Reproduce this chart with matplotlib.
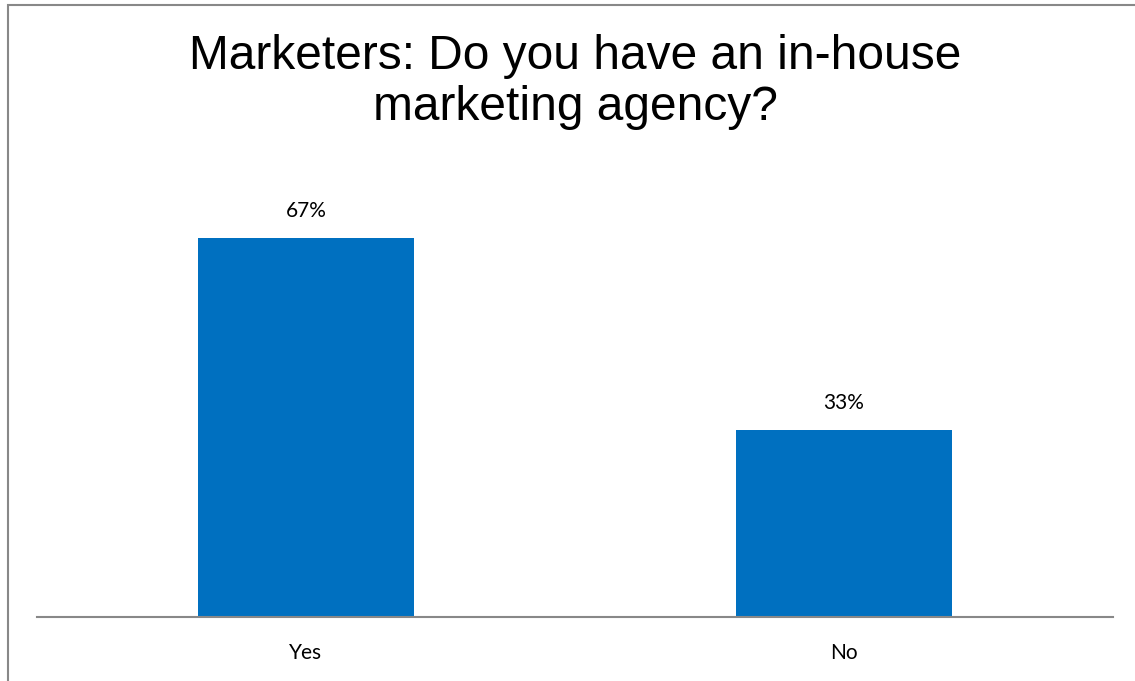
import matplotlib
matplotlib.use("Agg")
from matplotlib import pyplot as plt
from matplotlib.patches import Rectangle

answers = ["Yes", "No"]
shares = [67, 33]
bar_labels = ["67%", "33%"]

fig = plt.figure(figsize=(11.35, 6.81), dpi=100)
ax = fig.add_axes([37 / 1135, 1 - 617 / 681, 1076 / 1135, (617 - 164) / 681])

# chart frame (runs off the right and bottom edges)
fig.patches.append(Rectangle((7.5 / 1135, -0.1), 1.2, 1 - 4.5 / 681 + 0.1,
                             transform=fig.transFigure, fill=False,
                             edgecolor="#888888", linewidth=1.5))

bars = ax.bar(range(len(answers)), shares, width=0.4, color="#0070C0")
for bar, lab in zip(bars, bar_labels):
    ax.annotate(lab, (bar.get_x() + bar.get_width() / 2, bar.get_height()),
                xytext=(0, 12), textcoords="offset points", ha="center", va="bottom",
                fontsize=15, family="Lato", color="#000000")

ax.set_xlim(-0.5, 1.5)
ax.set_ylim(0, 80)
ax.set_xticks(range(len(answers)))
ax.set_xticklabels(answers, fontsize=15, family="Lato")
ax.tick_params(axis="x", length=0, pad=19)
ax.set_yticks([])
for side in ["top", "right", "left"]:
    ax.spines[side].set_visible(False)
ax.spines["bottom"].set_color("#888888")
ax.spines["bottom"].set_linewidth(1.5)

fig.text(575 / 1135, 1 - 82 / 681, "Marketers: Do you have an in-house\nmarketing agency?",
         ha="center", va="center", fontsize=34.5, family="Liberation Sans",
         linespacing=1.15)

fig.savefig("out.png", dpi=100)
